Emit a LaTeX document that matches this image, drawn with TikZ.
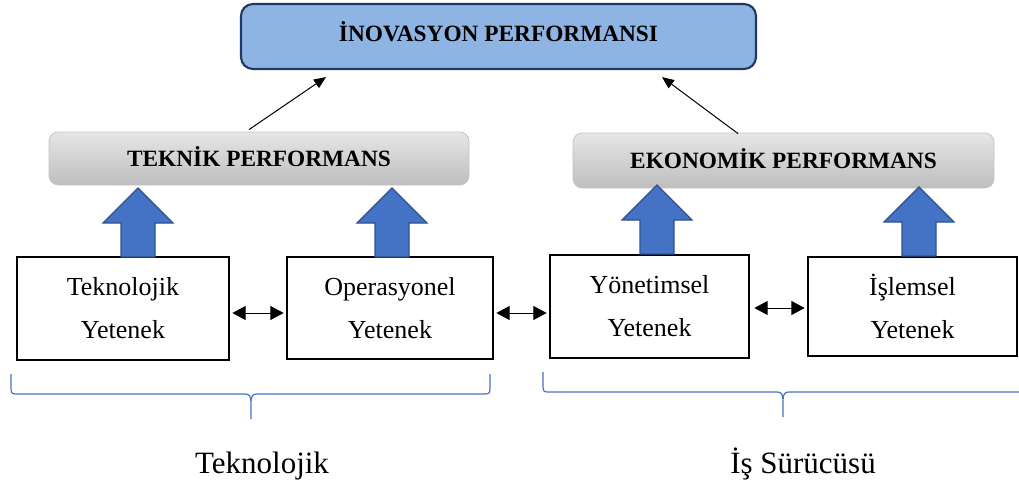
\documentclass[tikz,border=0pt]{standalone}
\usepackage{fontspec}
\setmainfont{Liberation Serif}
\usetikzlibrary{arrows.meta}
\definecolor{inovfill}{HTML}{8EB4E3}
\definecolor{inovline}{HTML}{203864}
\definecolor{arrowfill}{HTML}{4472C4}
\definecolor{arrowline}{HTML}{2F528F}
\definecolor{barline}{HTML}{C4C4C4}
\definecolor{bartop}{HTML}{E6E6E6}
\definecolor{barbottom}{HTML}{BEBEBE}
\definecolor{bracecol}{HTML}{4472C4}
\begin{document}
\begin{tikzpicture}[x=0.75pt,y=-0.75pt,
  topbox/.style={draw=inovline, line width=1.6pt, fill=inovfill, rounded corners=9pt,
    font=\fontsize{17.5}{21}\bfseries\selectfont, text height=12pt, text depth=5pt},
  perfbar/.style={draw=barline, line width=0.6pt, top color=bartop, bottom color=barbottom,
    rounded corners=7pt, font=\fontsize{17.5}{21}\bfseries\selectfont, text height=11.6pt, text depth=0pt},
  capbox/.style={draw=black, line width=2pt, fill=white, align=center,
    font=\fontsize{19.5}{32.25}\selectfont},
  groupname/.style={anchor=base, font=\fontsize{23.25}{28}\selectfont},
  dblarrow/.style={{Triangle[length=10pt,width=10.5pt]}-{Triangle[length=10pt,width=10.5pt]}, line width=0.75pt},
  thinarrow/.style={-{Triangle[length=9pt,width=7.5pt]}, line width=0.75pt},
  brace/.style={draw=bracecol, line width=0.9pt},
  blockup/.pic={\draw[draw=arrowline, fill=arrowfill, line width=0.9pt]
    (0,0) -- (35,35) -- (17,35) -- (17,69) -- (-17,69) -- (-17,35) -- (-35,35) -- cycle;}
]
\useasboundingbox (0,0) rectangle (1019,485);

% top level
\node[topbox, minimum width=515*0.75pt, minimum height=65*0.75pt] (inov) at (498.5,36.5) {İNOVASYON PERFORMANSI};

% performance bars
\node[perfbar, minimum width=420*0.75pt, minimum height=53*0.75pt] (teknik) at (259,158.5) {TEKNİK PERFORMANS};
\node[perfbar, minimum width=421*0.75pt, minimum height=55*0.75pt] (ekonomik) at (783.5,160.5) {EKONOMİK PERFORMANS};

% capability boxes
\node[capbox, minimum width=212*0.75pt, minimum height=103*0.75pt] (b1) at (123,308.5) {Teknolojik\\Yetenek};
\node[capbox, minimum width=206*0.75pt, minimum height=102*0.75pt] (b2) at (390,308) {Operasyonel\\Yetenek};
\node[capbox, minimum width=199*0.75pt, minimum height=103*0.75pt] (b3) at (649.5,306.5) {Yönetimsel\\Yetenek};
\node[capbox, minimum width=209*0.75pt, minimum height=99*0.75pt] (b4) at (912.5,306.5) {İşlemsel\\Yetenek};

% block arrows from the capabilities up to the bars
\pic at (138,188) {blockup};
\pic at (392,188) {blockup};
\pic at (657,185) {blockup};
\pic at (919,187) {blockup};

% links between neighbouring capabilities
\draw[dblarrow] ([shift={(2,4.5)}]b1.east) -- ([shift={(-2,5)}]b2.west);
\draw[dblarrow] ([shift={(2,5)}]b2.east) -- ([shift={(-2,6.5)}]b3.west);
\draw[dblarrow] ([shift={(4,1.5)}]b3.east) -- ([shift={(-2,1.5)}]b4.west);

% bars feed the innovation performance
\draw[thinarrow] ([shift={(-10,-2)}]teknik.north) -- ([shift={(-172.5,7)}]inov.south);
\draw[thinarrow] ([shift={(-45.5,1)}]ekonomik.north) -- ([shift={(163.5,7)}]inov.south);

% group braces
\draw[brace] (11,374) -- (11,388) .. controls (11,393) and (12,394) .. (16,394) -- (245,394)
  .. controls (249,394) and (251,396) .. (251,402) -- (251,419) -- (251,402)
  .. controls (251,396) and (253,394) .. (257,394) -- (485,394)
  .. controls (489,394) and (490,393) .. (490,388) -- (490,374);
\draw[brace] (543,372) -- (543,386) .. controls (543,391) and (544,392) .. (548,392) -- (777,392)
  .. controls (781,392) and (783,394) .. (783,400) -- (783,417) -- (783,400)
  .. controls (783,394) and (785,392) .. (789,392) -- (1030,392);

\node[groupname] (g1) at (262,473) {Teknolojik};
\node[groupname] (g2) at (803,473) {İş Sürücüsü};
\end{tikzpicture}
\end{document}
